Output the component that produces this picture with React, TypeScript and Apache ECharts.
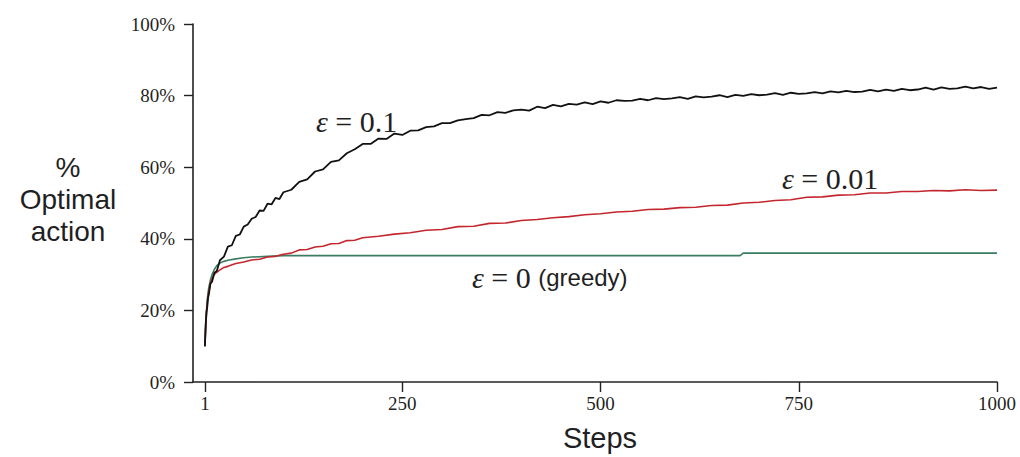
import React, { useEffect, useRef } from "react";
import * as echarts from "echarts";

const stepTicks = [1, 250, 500, 750, 1000];
const yTicks = [0, 20, 40, 60, 80, 100];

// epsilon = 0.1 (black): [step, % optimal action]
const eps01Points: [number, number][] = [
  [1, 10], [2, 16], [3, 19.5], [4, 21], [5, 23.5], [6, 24.5], [8, 27.5], [10, 28], [13, 30.5],
  [16, 31], [20, 34], [25, 35], [30, 37.8], [35, 38.2], [40, 40.8], [45, 41.2], [50, 43.4],
  [55, 44], [60, 45.6], [65, 46.1], [70, 47.9], [75, 47.8], [80, 49.8], [85, 49.6], [90, 51.4],
  [95, 51.1], [100, 53], [110, 53.7], [120, 55.9], [130, 56.6], [140, 58.8], [150, 59.4],
  [160, 61.5], [170, 61.9], [180, 63.9], [190, 65.0], [200, 66.5], [210, 66.5], [220, 68.0],
  [230, 67.9], [240, 69.4], [250, 69.0], [260, 70.2], [270, 70.3], [280, 71.2], [290, 71.4],
  [300, 72.3], [310, 72.3], [320, 73.1], [330, 73.4], [340, 73.7], [350, 74.6], [360, 74.5],
  [370, 75.4], [380, 75.2], [390, 75.9], [400, 76.1], [410, 75.8], [420, 76.9], [430, 76.5],
  [440, 77.4], [450, 77.0], [460, 77.7], [470, 77.5], [480, 78.1], [490, 77.6], [500, 78.4],
  [510, 78.0], [520, 78.7], [530, 78.5], [540, 78.6], [550, 79.1], [560, 78.7], [570, 79.3],
  [580, 79.0], [590, 79.2], [600, 79.6], [610, 79.1], [620, 79.8], [630, 79.5], [640, 79.7],
  [650, 80.1], [660, 79.6], [670, 80.2], [680, 79.9], [690, 80.4], [700, 80.1], [710, 80.3],
  [720, 80.7], [730, 80.2], [740, 80.8], [750, 80.5], [760, 80.6], [770, 81.0], [780, 80.6],
  [790, 81.2], [800, 80.9], [810, 81.3], [820, 81.0], [830, 81.1], [840, 81.6], [850, 81.2],
  [860, 81.7], [870, 81.3], [880, 81.9], [890, 81.5], [900, 81.7], [910, 82.2], [920, 81.7],
  [930, 82.3], [940, 81.9], [950, 82.0], [960, 82.5], [970, 82.0], [980, 82.4], [990, 81.9],
  [1000, 82.2],
];

// epsilon = 0.01 (red)
const eps001Points: [number, number][] = [
  [1, 10], [2, 15], [3, 19], [4, 22], [5, 24], [6, 25.5], [8, 27.5], [10, 28.8], [12, 29.8],
  [15, 30.5], [20, 31.3], [25, 32], [30, 32.3], [40, 33.1], [50, 33.5], [60, 34.1], [70, 34.3],
  [80, 34.9], [90, 35.1], [100, 35.7], [110, 36.0], [120, 36.9], [130, 37.0], [140, 37.7],
  [150, 37.9], [160, 38.6], [170, 38.7], [180, 39.5], [190, 39.6], [200, 40.3], [220, 40.7],
  [240, 41.3], [260, 41.7], [280, 42.4], [300, 42.6], [320, 43.4], [340, 43.5], [360, 44.3],
  [380, 44.4], [400, 45.1], [420, 45.4], [440, 45.9], [460, 46.2], [480, 46.7], [500, 47.0],
  [520, 47.5], [540, 47.7], [560, 48.2], [580, 48.3], [600, 48.7], [620, 48.8], [640, 49.3],
  [660, 49.4], [680, 50.0], [700, 50.2], [720, 50.7], [740, 50.9], [760, 51.6], [780, 51.7],
  [800, 52.2], [820, 52.3], [840, 52.8], [860, 52.8], [880, 53.2], [900, 53.2], [920, 53.5],
  [940, 53.4], [960, 53.7], [980, 53.5], [1000, 53.6],
];

// epsilon = 0 greedy (green)
const greedyPoints: [number, number][] = [
  [1, 10], [2, 16], [3, 20], [4, 23], [5, 25], [6, 26.5], [8, 28.5], [10, 30], [13, 31.5],
  [16, 32.5], [20, 33.2], [25, 33.7], [30, 34], [40, 34.4], [50, 34.7], [60, 34.9], [80, 35.1],
  [100, 35.3], [676, 35.3], [680, 36], [1000, 36],
];

export default function App() {
  const ref = useRef<HTMLDivElement>(null);
  useEffect(() => {
    if (!ref.current) return;
    const chart = echarts.init(ref.current, null, { renderer: "svg" });
    const serif = "'Liberation Serif', 'DejaVu Serif', serif";
    const sans = "'Liberation Sans', Arial, sans-serif";
    const axisColor = "#222";
    const ink = "#1f1f24";
    chart.setOption({
      animation: false,
      backgroundColor: "#fff",
      grid: { left: 193, right: 23, top: 24, bottom: 75, containLabel: false },
      xAxis: {
        type: "value",
        min: -14,
        max: 1000,
        axisLine: { show: true, onZero: false, lineStyle: { color: axisColor, width: 1.6 } },
        axisTick: { show: true, customValues: stepTicks, length: 10, lineStyle: { color: axisColor, width: 1.4 } },
        axisLabel: {
          customValues: stepTicks,
          formatter: (v: number) => String(v),
          color: ink,
          fontFamily: serif,
          fontSize: 19,
          margin: 12,
        },
        splitLine: { show: false },
      },
      yAxis: {
        type: "value",
        min: 0,
        max: 100,
        interval: 20,
        axisLine: { show: true, onZero: false, lineStyle: { color: axisColor, width: 1.6 } },
        axisTick: { show: true, length: 9, lineStyle: { color: axisColor, width: 1.4 } },
        axisLabel: {
          formatter: (v: number) => (yTicks.includes(v) ? v + "%" : ""),
          color: ink,
          fontFamily: serif,
          fontSize: 19,
          margin: 18,
        },
        splitLine: { show: false },
      },
      series: [
        {
          type: "line",
          data: greedyPoints,
          showSymbol: false,
          lineStyle: { color: "#3b7d62", width: 1.6 },
          z: 2,
        },
        {
          type: "line",
          data: eps001Points,
          showSymbol: false,
          lineStyle: { color: "#c4262e", width: 1.6 },
          z: 3,
        },
        {
          type: "line",
          data: eps01Points,
          showSymbol: false,
          lineStyle: { color: "#111", width: 1.8 },
          z: 4,
        },
      ],
      graphic: [
        {
          type: "text",
          x: 68,
          y: 199,
          style: {
            text: "%\nOptimal\naction",
            fill: ink,
            font: `28px ${sans}`,
            align: "center",
            verticalAlign: "middle",
            lineHeight: 32,
          },
        },
        {
          type: "text",
          x: 600,
          y: 438,
          style: { text: "Steps", fill: ink, font: `29px ${sans}`, align: "center", verticalAlign: "middle" },
        },
        {
          type: "text",
          x: 316,
          y: 121,
          style: {
            text: "{e|ε} = 0.1",
            fill: ink,
            font: `30px ${serif}`,
            verticalAlign: "middle",
            rich: { e: { fontStyle: "italic", fontFamily: serif, fontSize: 30, fill: ink } },
          },
        },
        {
          type: "text",
          x: 782,
          y: 178,
          style: {
            text: "{e|ε} = 0.01",
            fill: ink,
            font: `30px ${serif}`,
            verticalAlign: "middle",
            rich: { e: { fontStyle: "italic", fontFamily: serif, fontSize: 30, fill: ink } },
          },
        },
        {
          type: "text",
          x: 472,
          y: 277,
          style: {
            text: "{e|ε} = 0 {g|(greedy)}",
            fill: ink,
            font: `30px ${serif}`,
            verticalAlign: "middle",
            rich: {
              e: { fontStyle: "italic", fontFamily: serif, fontSize: 30, fill: ink },
              g: { fontFamily: sans, fontSize: 24, fill: ink },
            },
          },
        },
      ],
    });
    return () => chart.dispose();
  }, []);
  return (
    <div
      ref={ref}
      style={{ position: "absolute", left: 0, top: 0, width: 1020, height: 457, background: "#fff" }}
    />
  );
}
